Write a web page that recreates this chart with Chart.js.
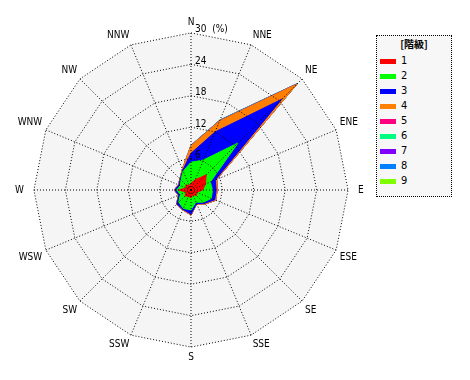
<!DOCTYPE html>
<html>
<head>
<meta charset="utf-8">
<script src="https://cdn.jsdelivr.net/npm/chart.js@4/dist/chart.umd.min.js"></script>
<style>
  html, body { margin: 0; padding: 0; background: #ffffff; }
  #wrap { position: absolute; left: 0; top: 0; width: 380px; height: 380px; }
  #legend { position: absolute; left: 376px; top: 35px; width: 76px; height: 162px;
            border: 1px dotted #000; background: #f7f7f7; box-sizing: border-box;
            font-family: 'Liberation Sans Narrow', 'DejaVu Sans Condensed', 'Liberation Sans', sans-serif; font-size: 11px; color: #000; }
  #legend .title { position: absolute; left: 0; width: 100%; top: 1px; text-align: center;
            font-family: 'Noto Sans CJK JP', sans-serif; font-size: 10px; line-height: 14px; color: #000; font-weight: bold; }
  #legend .row { position: absolute; left: 3px; height: 12px; }
  #legend .sw { position: absolute; left: 0; top: 4px; width: 16px; height: 5px; }
  #legend .lb { position: absolute; left: 21px; top: 0; line-height: 12px; }
</style>
</head>
<body>
<div id="wrap"><canvas id="c" width="380" height="380"></canvas></div>
<div id="legend"></div>
<script>
// ---- data ----
const directions = ['N','NNE','NE','ENE','E','ESE','SE','SSE','S','SSW','SW','WSW','W','WNW','NW','NNW'];
const classNames = ['1','2','3','4','5','6','7','8','9'];
const legendTitle = '[階級]';
const tickValues = [6, 12, 18, 24, 30];
const unitLabel = '(%)';
// frequency (%) of each class per direction (not cumulative)
const class1 = [1.3, 2.1, 4.1, 3.0, 2.2, 1.2, 1.5, 1.0, 1.5, 1.3, 1.6, 1.0, 2.4, 1.0, 1.4, 0.9];
const class2 = [4.0, 4.1, 8.6, 1.0, 1.9, 3.0, 1.8, 1.5, 2.3, 2.5, 1.7, 1.2, 0.3, 1.2, 1.3, 3.0];
const class3 = [1.7, 5.8, 11.8, 1.0, 0.7, 0.7, 0.3, 0.3, 0.8, 0.2, 0.5, 0.3, 0.4, 0.3, 0.2, 0.2];
const class4 = [1.4, 2.2, 4.0, 0.3, 0.2, 0.2, 0.2, 0.1, 0.2, 0.1, 0.1, 0.1, 0.1, 0.1, 0.1, 0.2];
const class5 = [0.05, 0.1, 0.1, 0, 0, 0, 0, 0, 0, 0, 0, 0, 0, 0, 0, 0];
const class6 = [0.05, 0.1, 0.1, 0.02, 0, 0, 0, 0, 0, 0, 0, 0, 0, 0, 0, 0];
const class7 = [0.02, 0.05, 0.05, 0, 0, 0, 0, 0, 0, 0, 0, 0, 0, 0, 0, 0];
const class8 = [0.02, 0.03, 0.03, 0, 0, 0, 0, 0, 0, 0, 0, 0, 0, 0, 0, 0];
const class9 = [0.01, 0.02, 0.02, 0, 0, 0, 0, 0, 0, 0, 0, 0, 0, 0, 0, 0];
const classValues = [class1, class2, class3, class4, class5, class6, class7, class8, class9];
const classColors = ['#ff0000','#00ff00','#0000ff','#ff8000','#ff0080','#00ff80','#8000ff','#0080ff','#80ff00'];

// cumulative stacking
const cumulative = [];
classValues.forEach((arr, k) => {
  cumulative.push(arr.map((v, i) => (k === 0 ? 0 : cumulative[k - 1][i]) + v));
});

const datasets = cumulative.map((vals, k) => ({
  label: classNames[k],
  data: vals,
  backgroundColor: classColors[k],
  borderColor: classColors[k],
  borderWidth: 1,
  pointRadius: 0,
  fill: 'origin',
  tension: 0
}));

const FONT = "'Liberation Sans Narrow', 'DejaVu Sans Condensed', 'Liberation Sans', sans-serif";

const bgPlugin = {
  id: 'bg',
  beforeDatasetsDraw(chart) {
    const s = chart.scales.r, ctx = chart.ctx;
    ctx.save();
    ctx.beginPath();
    directions.forEach((d, i) => {
      const p = s.getPointPositionForValue(i, s.max);
      if (i === 0) ctx.moveTo(p.x, p.y); else ctx.lineTo(p.x, p.y);
    });
    ctx.closePath();
    ctx.fillStyle = '#f5f5f5';
    ctx.fill();
    ctx.restore();
  },
  afterDraw(chart) {
    const s = chart.scales.r, ctx = chart.ctx;
    ctx.save();
    ctx.font = '10px ' + FONT;
    ctx.fillStyle = '#000';
    ctx.textAlign = 'left';
    ctx.textBaseline = 'middle';
    tickValues.forEach(v => {
      const d = s.getDistanceFromCenterForValue(v);
      const txt = v === s.max ? v + '  ' + unitLabel : String(v);
      ctx.fillText(txt, s.xCenter + 4, s.yCenter - d - 3);
    });
    ctx.restore();
  }
};

new Chart(document.getElementById('c'), {
  type: 'radar',
  data: { labels: directions, datasets },
  options: {
    responsive: false,
    animation: false,
    layout: { padding: 14 },
    plugins: { legend: { display: false }, tooltip: { enabled: false } },
    elements: { line: { tension: 0 } },
    scales: {
      r: {
        min: 0, max: 30,
        ticks: { stepSize: 6, display: false },
        grid: { z: 1, color: '#000', lineWidth: 1, circular: false },
        border: { dash: [1, 2] },
        angleLines: { color: '#000', lineWidth: 1, borderDash: [1, 2] },
        pointLabels: {
          color: '#000',
          font: { size: 10, family: FONT },
          padding: (ctx) => (ctx.index === 4 || ctx.index === 12) ? 10 : 4
        }
      }
    }
  },
  plugins: [bgPlugin]
});

// legend built from the same arrays
const lg = document.getElementById('legend');
const t = document.createElement('div');
t.className = 'title'; t.textContent = legendTitle; lg.appendChild(t);
classNames.forEach((n, k) => {
  const row = document.createElement('div');
  row.className = 'row';
  row.style.top = (19 + k * 15) + 'px';
  const sw = document.createElement('div');
  sw.className = 'sw'; sw.style.background = classColors[k];
  const lb = document.createElement('div');
  lb.className = 'lb'; lb.textContent = n;
  row.appendChild(sw); row.appendChild(lb); lg.appendChild(row);
});
</script>
</body>
</html>
